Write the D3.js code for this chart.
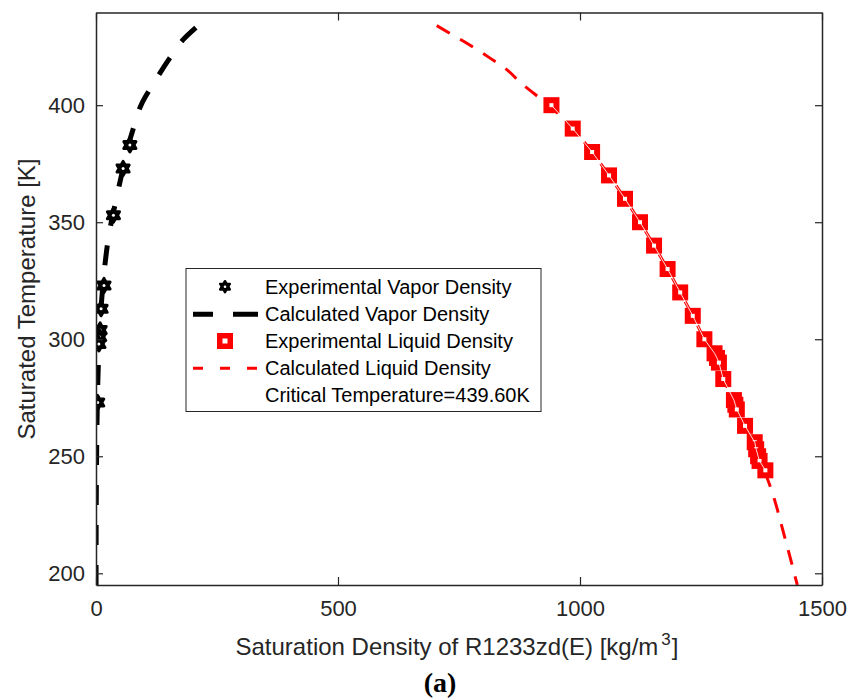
<!DOCTYPE html>
<html>
<head>
<meta charset="utf-8">
<script src="https://cdn.jsdelivr.net/npm/d3@7"></script>
<style>
	body { margin: 0; background: #fff; }
	svg text { font-family: 'Liberation Sans', Arial, Helvetica, sans-serif; }
</style>
</head>
<body>
<div id="chart"></div>
<script>
const w = 851;
const h = 700;

// experimental vapor points (density kg/m3, temperature K)
const vaporExpRho = [70, 56, 36, 16.5, 10.5, 8.5, 7.5, 6, 3.5];
const vaporExpT = [383, 373, 353, 323, 313, 304, 301, 298, 273];

// calculated vapor curve
const vaporCalcT = [195, 210, 225, 240, 255, 270, 285, 300, 315, 330, 345, 360, 375, 383, 390, 400, 410, 420, 428, 434];
const vaporCalcRho = [0.1, 0.2, 0.4, 0.8, 1.5, 2.5, 4.2, 7, 11, 17.5, 27, 42, 58, 67, 77, 93, 121, 152, 180, 211];

// experimental liquid points
const liquidExpRho = [941, 985, 1025, 1060, 1093, 1124, 1153, 1181, 1207, 1233, 1257, 1278, 1283, 1287, 1296, 1318, 1321, 1324, 1341, 1361, 1364, 1368, 1371, 1383];
const liquidExpT = [400, 390, 380, 370, 360, 350, 340, 330, 320, 310, 300, 294, 292, 290, 283, 274, 272, 270, 263, 256, 253, 250, 248, 244];

// calculated liquid curve
const liquidCalcT = [434, 430, 425, 420, 415, 410, 405, 400, 395, 390, 380, 370, 360, 350, 340, 330, 320, 310, 300, 290, 280, 270, 260, 250, 240, 230, 220, 210, 195];
const liquidCalcRho = [704, 737, 778, 815, 850, 875, 905, 935, 962, 985, 1025, 1060, 1093, 1124, 1153, 1181, 1207, 1233, 1257, 1282, 1303, 1325, 1347, 1368, 1388, 1404, 1417, 1430, 1449];

const xTicks = [0, 500, 1000, 1500];
const yTicks = [200, 250, 300, 350, 400];

const legendLabels = [
	'Experimental Vapor Density',
	'Calculated Vapor Density',
	'Experimental Liquid Density',
	'Calculated Liquid Density',
	'Critical Temperature=439.60K',
];

const axisColor = '#262626';

const svg = d3
	.select('#chart')
	.append('svg')
	.attr('width', w)
	.attr('height', h)
	.style('display', 'block');

const xScale = d3.scaleLinear().domain([0, 1500]).range([96, 822]);
const yScale = d3.scaleLinear().domain([195, 439.6]).range([585, 12.5]);

svg
	.append('clipPath')
	.attr('id', 'plot-clip')
	.append('rect')
	.attr('x', 96)
	.attr('y', 12.5)
	.attr('width', 726)
	.attr('height', 572.5);

const plot = svg.append('g').attr('clip-path', 'url(#plot-clip)');

// hexagram (six pointed star) path centred on 0,0
function hexagram(r) {
	const pts = [];
	for (let i = 0; i < 12; i++) {
		const a = -Math.PI / 2 + (i * Math.PI) / 6;
		const rr = i % 2 === 0 ? r : r * 0.577;
		pts.push([rr * Math.cos(a), rr * Math.sin(a)]);
	}
	return 'M' + pts.map(p => p.join(',')).join('L') + 'Z';
}

const line = d3
	.line()
	.x(d => xScale(d[0]))
	.y(d => yScale(d[1]))
	.curve(d3.curveMonotoneY);

// calculated vapor density
plot
	.append('path')
	.datum(vaporCalcT.map((t, i) => [vaporCalcRho[i], t]))
	.attr('d', line)
	.attr('fill', 'none')
	.attr('stroke', '#000')
	.attr('stroke-width', 5)
	.attr('stroke-dasharray', '20,20');

// calculated liquid density
plot
	.append('path')
	.datum(liquidCalcT.map((t, i) => [liquidCalcRho[i], t]))
	.attr('d', line)
	.attr('fill', 'none')
	.attr('stroke', '#ff0000')
	.attr('stroke-width', 3)
	.attr('stroke-dasharray', '15,12');

// experimental vapor stars
const stars = plot
	.selectAll('.star')
	.data(vaporExpT.map((t, i) => [vaporExpRho[i], t]))
	.enter()
	.append('g')
	.attr('class', 'star')
	.attr('transform', d => `translate(${xScale(d[0])},${yScale(d[1])})`);

stars
	.append('path')
	.attr('d', hexagram(7))
	.attr('fill', '#000')
	.attr('stroke', '#000')
	.attr('stroke-width', 3)
	.attr('stroke-linejoin', 'round');
stars.append('circle').attr('r', 1.5).attr('fill', '#fff');

// experimental liquid squares
const squares = plot
	.selectAll('.sq')
	.data(liquidExpT.map((t, i) => [liquidExpRho[i], t]))
	.enter()
	.append('g')
	.attr('class', 'sq')
	.attr('transform', d => `translate(${xScale(d[0])},${yScale(d[1])})`);

squares
	.append('rect')
	.attr('x', -8)
	.attr('y', -8)
	.attr('width', 16)
	.attr('height', 16)
	.attr('fill', '#ff0000');
squares
	.append('rect')
	.attr('x', -2)
	.attr('y', -2)
	.attr('width', 4)
	.attr('height', 4)
	.attr('fill', '#fff');

plot
	.append('path')
	.datum(liquidExpT.map((t, i) => [liquidExpRho[i], t]))
	.attr('d', d3.line().x(d => xScale(d[0])).y(d => yScale(d[1])))
	.attr('fill', 'none')
	.attr('stroke', '#fff')
	.attr('stroke-width', 1)
	.attr('opacity', 0.85);

// axes (box with inward ticks)
const xAxis = d3
	.axisBottom(xScale)
	.tickValues(xTicks)
	.tickFormat(d3.format('d'))
	.tickSizeInner(-8)
	.tickSizeOuter(0)
	.tickPadding(15);

const yAxis = d3
	.axisLeft(yScale)
	.tickValues(yTicks)
	.tickFormat(d3.format('d'))
	.tickSizeInner(-7)
	.tickSizeOuter(0)
	.tickPadding(11);

const gx = svg.append('g').attr('transform', 'translate(0,585)').call(xAxis);
const gy = svg.append('g').attr('transform', 'translate(96,0)').call(yAxis);
const gxTop = svg
	.append('g')
	.attr('transform', 'translate(0,12.5)')
	.call(d3.axisTop(xScale).tickValues(xTicks).tickSizeInner(-8).tickSizeOuter(0).tickFormat(''));
const gyRight = svg
	.append('g')
	.attr('transform', 'translate(822,0)')
	.call(d3.axisRight(yScale).tickValues(yTicks).tickSizeInner(-7).tickSizeOuter(0).tickFormat(''));

[gx, gy, gxTop, gyRight].forEach(g => {
	g.select('.domain').attr('stroke', axisColor).attr('stroke-width', 1.5);
	g.selectAll('.tick line').attr('stroke', axisColor).attr('stroke-width', 1.2);
	g.selectAll('.tick text')
		.attr('fill', axisColor)
		.style('font-size', '22px')
		.style('font-family', "'Liberation Sans', Arial, Helvetica, sans-serif");
});

// axis labels
svg
	.append('text')
	.attr('transform', 'translate(35,299) rotate(-90)')
	.attr('text-anchor', 'middle')
	.attr('fill', axisColor)
	.style('font-size', '24px')
	.text('Saturated Temperature [K]');

const xLabel = svg
	.append('text')
	.attr('x', 457)
	.attr('y', 655)
	.attr('text-anchor', 'middle')
	.attr('fill', axisColor)
	.style('font-size', '24px');
xLabel.append('tspan').text('Saturation Density of R1233zd(E) [kg/m');
xLabel.append('tspan').attr('dx', 3).attr('dy', -10).style('font-size', '17px').text('3');
xLabel.append('tspan').attr('dx', 1).attr('dy', 10).text(']');

svg
	.append('text')
	.attr('x', 440)
	.attr('y', 692)
	.attr('text-anchor', 'middle')
	.attr('fill', '#000')
	.style('font-family', "'Liberation Serif', 'DejaVu Serif', serif")
	.style('font-weight', 'bold')
	.style('font-size', '28px')
	.text('(a)');

// legend
const legend = svg.append('g');
legend
	.append('rect')
	.attr('x', 186)
	.attr('y', 268.5)
	.attr('width', 355)
	.attr('height', 143)
	.attr('fill', '#fff')
	.attr('stroke', axisColor)
	.attr('stroke-width', 1);

const rowY = [286.7, 314.3, 341, 368.3, 395];

legend
	.selectAll('.ltext')
	.data(legendLabels)
	.enter()
	.append('text')
	.attr('x', 265)
	.attr('y', (d, i) => rowY[i] + 7)
	.attr('fill', '#000')
	.style('font-size', '20px')
	.text(d => d);

const lStar = legend.append('g').attr('transform', `translate(225,${rowY[0]})`);
lStar
	.append('path')
	.attr('d', hexagram(5.5))
	.attr('fill', '#000')
	.attr('stroke', '#000')
	.attr('stroke-width', 2.5)
	.attr('stroke-linejoin', 'round');
lStar.append('circle').attr('r', 1.3).attr('fill', '#fff');

legend
	.append('line')
	.attr('x1', 193)
	.attr('x2', 258)
	.attr('y1', rowY[1])
	.attr('y2', rowY[1])
	.attr('stroke', '#000')
	.attr('stroke-width', 5)
	.attr('stroke-dasharray', '20,20,25');

const lSq = legend.append('g').attr('transform', `translate(225,${rowY[2]})`);
lSq.append('rect').attr('x', -8).attr('y', -8).attr('width', 16).attr('height', 16).attr('fill', '#ff0000');
lSq.append('rect').attr('x', -2.5).attr('y', -2.5).attr('width', 5).attr('height', 5).attr('fill', '#fff');

legend
	.append('line')
	.attr('x1', 193)
	.attr('x2', 258)
	.attr('y1', rowY[3])
	.attr('y2', rowY[3])
	.attr('stroke', '#ff0000')
	.attr('stroke-width', 3)
	.attr('stroke-dasharray', '10,17');
</script>
</body>
</html>
